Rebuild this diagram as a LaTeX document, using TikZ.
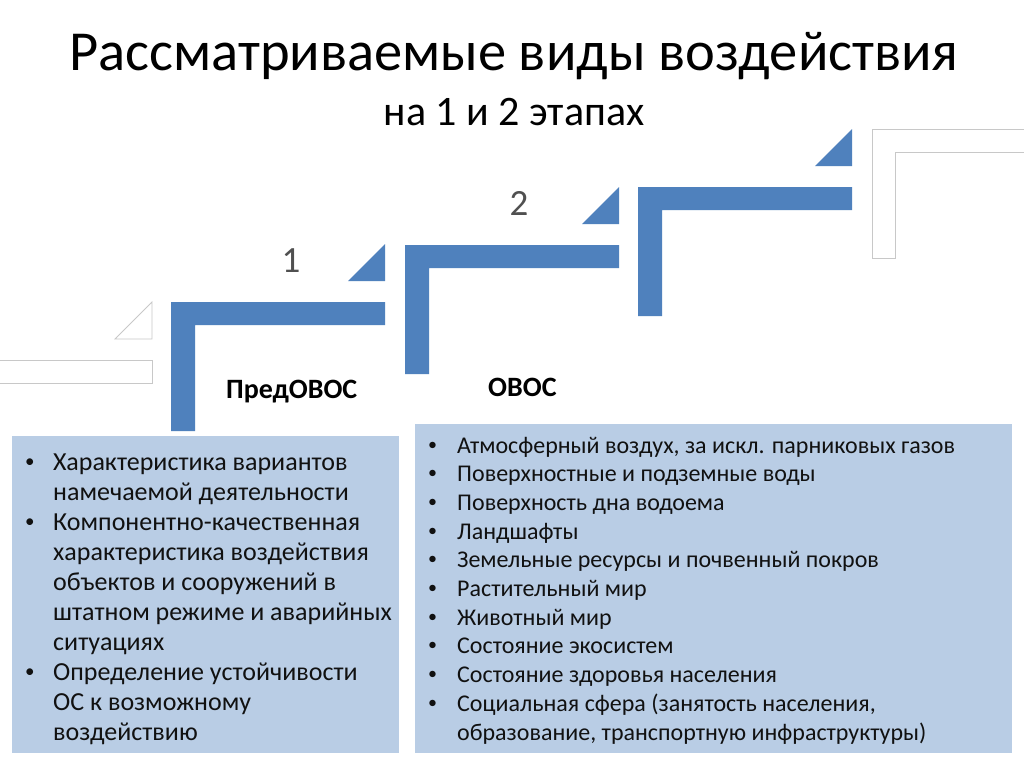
\documentclass[tikz,border=0pt]{standalone}
\usepackage{fontspec}
\setmainfont{Carlito}
\definecolor{stairblue}{HTML}{4F81BD}
\definecolor{boxblue}{HTML}{B9CDE5}
\definecolor{ghostline}{HTML}{C8C8C8}
\definecolor{numgray}{HTML}{505050}
\definecolor{txt}{HTML}{111111}
\begin{document}
\begin{tikzpicture}[x=1bp,y=-1bp,
  stairfill/.style={fill=stairblue,draw=none},
  ghost/.style={fill=white,draw=ghostline,line width=0.8bp},
  infobox/.style={fill=boxblue,draw=none},
  lefttxt/.style={anchor=base west,inner sep=0pt,text=txt,font=\fontsize{26bp}{30bp}\selectfont},
  righttxt/.style={anchor=base west,inner sep=0pt,text=txt,font=\fontsize{24bp}{29bp}\selectfont},
  leftbullet/.style={anchor=base west,inner sep=0pt,text=txt,font=\fontsize{19bp}{22bp}\selectfont},
  rightbullet/.style={anchor=base west,inner sep=0pt,text=txt,font=\fontsize{18bp}{22bp}\selectfont},
  numlabel/.style={anchor=base,inner sep=0pt,text=numgray,font=\fontsize{37bp}{40bp}\selectfont},
  stagelabel/.style={anchor=base west,inner sep=0pt,text=black,font=\bfseries\fontsize{28bp}{30bp}\selectfont}]
\useasboundingbox[fill=white] (0,0) rectangle (1024,768);

% ghost step 0 (left)
\draw[ghost] (-62,360) -- (152,360) -- (152,383) -- (-38,383) -- (-38,490) -- (-62,490) -- cycle;
\draw[ghost] (115,339) -- (152,339) -- (152,302) -- cycle;
% ghost step 4 (right)
\draw[ghost] (872,129) -- (1090,129) -- (1090,152) -- (895,152) -- (895,258) -- (872,258) -- cycle;

% blue steps
\foreach \k/\ox/\oy in {1/171/302, 2/405/245, 3/638/187}{
  \fill[stairfill] (\ox,\oy) -- ({\ox+214},\oy) -- ({\ox+214},{\oy+23}) -- ({\ox+24},{\oy+23}) -- ({\ox+24},{\oy+129}) -- (\ox,{\oy+129}) -- cycle;
  \fill[stairfill] ({\ox+177},{\oy-21}) -- ({\ox+214},{\oy-21}) -- ({\ox+214},{\oy-58}) -- cycle;
}

% title
\node[anchor=base,inner sep=0pt,font=\fontsize{56.5bp}{60bp}\selectfont] (title) at (514,71) {Рассматриваемые виды воздействия};
\node[anchor=base,inner sep=0pt,font=\fontsize{42bp}{46bp}\selectfont] (subtitle) at (514,125) {на 1 и 2 этапах};

\node[numlabel] (n1) at (291,272) {1};
\node[numlabel] (n2) at (519,215) {2};

\node[stagelabel] (pre) at (226,398) {ПредОВОС};
\node[stagelabel] (ovos) at (488,396) {ОВОС};

% boxes
\fill[infobox] (12,436) rectangle (399,753);
\fill[infobox] (415,424) rectangle (1012,753);

% left box text
\foreach \i/\t in {0/{Характеристика вариантов},1/{намечаемой деятельности},2/{Компонентно-качественная},3/{характеристика воздействия},4/{объектов и сооружений в},5/{штатном режиме и аварийных},6/{ситуациях},7/{Определение устойчивости},8/{ОС к возможному},9/{воздействию}}{
  \node[lefttxt] (L\i) at (53,{470+30.1*\i}) {\t};
}
\foreach \i in {0,2,7}{
  \node[leftbullet] (LB\i) at (25,{467+30.1*\i}) {•};
}

% right box text
\foreach \i/\t in {0/{Атмосферный воздух, за искл. парниковых газов},1/{Поверхностные и подземные воды},2/{Поверхность дна водоема},3/{Ландшафты},4/{Земельные ресурсы и почвенный покров},5/{Растительный мир},6/{Животный мир},7/{Состояние экосистем},8/{Состояние здоровья населения},9/{Социальная сфера (занятость населения,},10/{образование, транспортную инфраструктуры)}}{
  \node[righttxt] (R\i) at (457,{453+28.7*\i}) {\t};
}
\foreach \i in {0,...,9}{
  \node[rightbullet] (RB\i) at (428,{450+28.7*\i}) {•};
}
\end{tikzpicture}
\end{document}
